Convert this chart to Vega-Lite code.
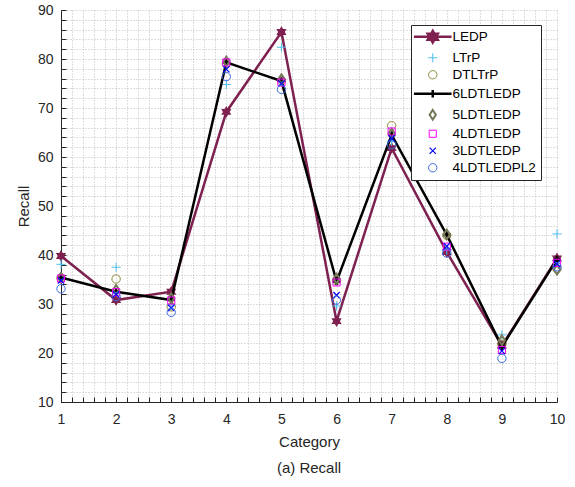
{
  "$schema": "https://vega.github.io/schema/vega-lite/v6.json",
  "autosize": {"type": "none"},
  "width": 496,
  "height": 392,
  "padding": {"left": 61, "top": 10, "right": 18, "bottom": 85},
  "background": "white",
  "config": {
    "view": {"stroke": null},
    "font": "Liberation Sans",
    "axis": {
      "domainColor": "#262626",
      "tickColor": "#262626",
      "labelColor": "#262626",
      "titleColor": "#262626",
      "labelFont": "Liberation Sans",
      "titleFont": "Liberation Sans",
      "labelFontSize": 14,
      "titleFontSize": 15,
      "titleFontWeight": "normal",
      "gridColor": "#bdbdbd",
      "gridDash": [1, 2],
      "gridWidth": 1,
      "tickSize": -5,
      "labelOverlap": false,
      "labelFlush": false
    },
    "title": {"font": "Liberation Sans", "fontSize": 15, "fontWeight": "normal", "color": "#262626"}
  },
  "title": {"text": "(a) Recall", "orient": "bottom", "offset": 12},
  "data": {
    "values": [
      {"cat": 1, "series": "LEDP", "value": 39.8},
      {"cat": 2, "series": "LEDP", "value": 30.8},
      {"cat": 3, "series": "LEDP", "value": 32.5},
      {"cat": 4, "series": "LEDP", "value": 69.2},
      {"cat": 5, "series": "LEDP", "value": 85.5},
      {"cat": 6, "series": "LEDP", "value": 26.5},
      {"cat": 7, "series": "LEDP", "value": 61.8},
      {"cat": 8, "series": "LEDP", "value": 40.6},
      {"cat": 9, "series": "LEDP", "value": 21.5},
      {"cat": 10, "series": "LEDP", "value": 39.3},
      {"cat": 1, "series": "LTrP", "value": 38.1},
      {"cat": 2, "series": "LTrP", "value": 37.5},
      {"cat": 3, "series": "LTrP", "value": 29.8},
      {"cat": 4, "series": "LTrP", "value": 74.8},
      {"cat": 5, "series": "LTrP", "value": 82.4},
      {"cat": 6, "series": "LTrP", "value": 29.6},
      {"cat": 7, "series": "LTrP", "value": 63.2},
      {"cat": 8, "series": "LTrP", "value": 41.0},
      {"cat": 9, "series": "LTrP", "value": 23.7},
      {"cat": 10, "series": "LTrP", "value": 44.3},
      {"cat": 1, "series": "DTLTrP", "value": 35.3},
      {"cat": 2, "series": "DTLTrP", "value": 35.1},
      {"cat": 3, "series": "DTLTrP", "value": 29.4},
      {"cat": 4, "series": "DTLTrP", "value": 79.0},
      {"cat": 5, "series": "DTLTrP", "value": 75.6},
      {"cat": 6, "series": "DTLTrP", "value": 34.8},
      {"cat": 7, "series": "DTLTrP", "value": 66.4},
      {"cat": 8, "series": "DTLTrP", "value": 44.0},
      {"cat": 9, "series": "DTLTrP", "value": 21.8},
      {"cat": 10, "series": "DTLTrP", "value": 37.2},
      {"cat": 1, "series": "6LDTLEDP", "value": 35.4},
      {"cat": 2, "series": "6LDTLEDP", "value": 32.5},
      {"cat": 3, "series": "6LDTLEDP", "value": 30.8},
      {"cat": 4, "series": "6LDTLEDP", "value": 79.3},
      {"cat": 5, "series": "6LDTLEDP", "value": 75.5},
      {"cat": 6, "series": "6LDTLEDP", "value": 34.6},
      {"cat": 7, "series": "6LDTLEDP", "value": 64.5},
      {"cat": 8, "series": "6LDTLEDP", "value": 44.1},
      {"cat": 9, "series": "6LDTLEDP", "value": 21.3},
      {"cat": 10, "series": "6LDTLEDP", "value": 39.1},
      {"cat": 1, "series": "5LDTLEDP", "value": 35.4},
      {"cat": 2, "series": "5LDTLEDP", "value": 32.9},
      {"cat": 3, "series": "5LDTLEDP", "value": 31.2},
      {"cat": 4, "series": "5LDTLEDP", "value": 79.5},
      {"cat": 5, "series": "5LDTLEDP", "value": 75.9},
      {"cat": 6, "series": "5LDTLEDP", "value": 35.2},
      {"cat": 7, "series": "5LDTLEDP", "value": 64.8},
      {"cat": 8, "series": "5LDTLEDP", "value": 44.2},
      {"cat": 9, "series": "5LDTLEDP", "value": 22.6},
      {"cat": 10, "series": "5LDTLEDP", "value": 37.0},
      {"cat": 1, "series": "4LDTLEDP", "value": 35.2},
      {"cat": 2, "series": "4LDTLEDP", "value": 32.4},
      {"cat": 3, "series": "4LDTLEDP", "value": 30.7},
      {"cat": 4, "series": "4LDTLEDP", "value": 79.3},
      {"cat": 5, "series": "4LDTLEDP", "value": 75.2},
      {"cat": 6, "series": "4LDTLEDP", "value": 34.4},
      {"cat": 7, "series": "4LDTLEDP", "value": 65.2},
      {"cat": 8, "series": "4LDTLEDP", "value": 41.7},
      {"cat": 9, "series": "4LDTLEDP", "value": 20.6},
      {"cat": 10, "series": "4LDTLEDP", "value": 38.4},
      {"cat": 1, "series": "3LDTLEDP", "value": 34.8},
      {"cat": 2, "series": "3LDTLEDP", "value": 32.0},
      {"cat": 3, "series": "3LDTLEDP", "value": 29.2},
      {"cat": 4, "series": "3LDTLEDP", "value": 77.9},
      {"cat": 5, "series": "3LDTLEDP", "value": 75.0},
      {"cat": 6, "series": "3LDTLEDP", "value": 31.8},
      {"cat": 7, "series": "3LDTLEDP", "value": 63.8},
      {"cat": 8, "series": "3LDTLEDP", "value": 41.8},
      {"cat": 9, "series": "3LDTLEDP", "value": 20.4},
      {"cat": 10, "series": "3LDTLEDP", "value": 38.2},
      {"cat": 1, "series": "4LDTLEDPL2", "value": 33.1},
      {"cat": 2, "series": "4LDTLEDPL2", "value": 31.5},
      {"cat": 3, "series": "4LDTLEDPL2", "value": 28.3},
      {"cat": 4, "series": "4LDTLEDPL2", "value": 76.4},
      {"cat": 5, "series": "4LDTLEDPL2", "value": 73.8},
      {"cat": 6, "series": "4LDTLEDPL2", "value": 30.8},
      {"cat": 7, "series": "4LDTLEDPL2", "value": 62.5},
      {"cat": 8, "series": "4LDTLEDPL2", "value": 40.4},
      {"cat": 9, "series": "4LDTLEDPL2", "value": 18.9},
      {"cat": 10, "series": "4LDTLEDPL2", "value": 37.6}
    ]
  },
  "encoding": {
    "x": {
      "field": "cat", "type": "quantitative",
      "scale": {"domain": [1, 10], "nice": false, "zero": false},
      "axis": {
        "title": "Category",
        "grid": true,
        "values": [1,1.2,1.4,1.6,1.8,2,2.2,2.4,2.6,2.8,3,3.2,3.4,3.6,3.8,4,4.2,4.4,4.6,4.8,5,5.2,5.4,5.6,5.8,6,6.2,6.4,6.6,6.8,7,7.2,7.4,7.6,7.8,8,8.2,8.4,8.6,8.8,9,9.2,9.4,9.6,9.8,10],
        "labelExpr": "datum.value % 1 === 0 ? format(datum.value, 'd') : ''",
        "labelPadding": 15,
        "titlePadding": 8,
        "encode": {"ticks": {"update": {"strokeOpacity": {"signal": "datum.value % 1 === 0 ? 1 : 0"}}}}
      }
    },
    "y": {
      "field": "value", "type": "quantitative",
      "scale": {"domain": [10, 90], "nice": false, "zero": false},
      "axis": {
        "title": "Recall",
        "grid": true,
        "values": [10,12,14,16,18,20,22,24,26,28,30,32,34,36,38,40,42,44,46,48,50,52,54,56,58,60,62,64,66,68,70,72,74,76,78,80,82,84,86,88,90],
        "labelExpr": "datum.value % 10 === 0 ? datum.label : ''",
        "labelPadding": 13,
        "titlePadding": 6,
        "encode": {"ticks": {"update": {"strokeOpacity": {"signal": "datum.value % 10 === 0 ? 1 : 0"}}}}
      }
    }
  },
  "layer": [
    {
      "transform": [{"filter": "datum.series === 'LEDP'"}],
      "mark": {"type": "line", "strokeWidth": 2.5, "color": "#7E2150"}
    },
    {
      "transform": [{"filter": "datum.series === 'LEDP'"}],
      "mark": {"type": "point", "opacity": 1, "filled": true, "color": "#7E2150", "strokeWidth": 1.5, "size": 70,
        "shape": "M0,-1.4L0.404,-0.7L1.212,-0.7L0.808,0L1.212,0.7L0.404,0.7L0,1.4L-0.404,0.7L-1.212,0.7L-0.808,0L-1.212,-0.7L-0.404,-0.7Z"}
    },
    {
      "transform": [{"filter": "datum.series === 'LTrP'"}],
      "mark": {"type": "point", "opacity": 1, "filled": false, "color": "#4DBEEE", "strokeWidth": 1, "size": 70,
        "shape": "M-1.1,0L1.1,0M0,-1.1L0,1.1"}
    },
    {
      "transform": [{"filter": "datum.series === 'DTLTrP'"}],
      "mark": {"type": "point", "opacity": 1, "filled": false, "color": "#8F8B3B", "strokeWidth": 1, "size": 70, "shape": "circle"}
    },
    {
      "transform": [{"filter": "datum.series === '6LDTLEDP'"}],
      "mark": {"type": "line", "strokeWidth": 2.5, "color": "#000000"}
    },
    {
      "transform": [{"filter": "datum.series === '6LDTLEDP'"}],
      "mark": {"type": "point", "opacity": 1, "filled": false, "color": "#000000", "strokeWidth": 2.5, "size": 70,
        "shape": "M-0.9,0L0.9,0M0,-0.9L0,0.9"}
    },
    {
      "transform": [{"filter": "datum.series === '5LDTLEDP'"}],
      "mark": {"type": "point", "opacity": 1, "filled": false, "color": "#77775A", "strokeWidth": 2, "size": 70,
        "shape": "M0,-1.15L0.75,0L0,1.15L-0.75,0Z"}
    },
    {
      "transform": [{"filter": "datum.series === '4LDTLEDP'"}],
      "mark": {"type": "point", "opacity": 1, "filled": false, "color": "#FF00FF", "strokeWidth": 1, "size": 70,
        "shape": "M-0.85,-0.85L0.85,-0.85L0.85,0.85L-0.85,0.85Z"}
    },
    {
      "transform": [{"filter": "datum.series === '3LDTLEDP'"}],
      "mark": {"type": "point", "opacity": 1, "filled": false, "color": "#0000FF", "strokeWidth": 1.2, "size": 70,
        "shape": "M-0.75,-0.75L0.75,0.75M-0.75,0.75L0.75,-0.75"}
    },
    {
      "transform": [{"filter": "datum.series === '4LDTLEDPL2'"}],
      "mark": {"type": "point", "opacity": 1, "filled": false, "color": "#3D6BE0", "strokeWidth": 1, "size": 70, "shape": "circle"}
    },
    {
      "mark": {"type": "point", "opacity": 0, "size": 70, "filled": true},
      "encoding": {
        "stroke": {
          "field": "series", "type": "nominal",
          "scale": {
            "domain": ["LEDP", "LTrP", "DTLTrP", "6LDTLEDP", "5LDTLEDP", "4LDTLEDP", "3LDTLEDP", "4LDTLEDPL2"],
            "range": ["#7E2150", "#4DBEEE", "#8F8B3B", "#000000", "#77775A", "#FF00FF", "#0000FF", "#3D6BE0"]
          },
          "legend": {
            "title": null,
            "orient": "none",
            "legendX": 350,
            "legendY": 15,
            "strokeColor": "#262626",
            "fillColor": "white",
            "padding": 5,
            "labelFont": "Liberation Sans",
            "labelFontSize": 13.5,
            "labelColor": "#000000",
            "symbolOffset": 10,
            "labelOffset": 13,
            "rowPadding": 2,
            "symbolSize": 70,
            "symbolOpacity": 1
          }
        },
        "shape": {
          "field": "series", "type": "nominal",
          "scale": {
            "domain": ["LEDP", "LTrP", "DTLTrP", "6LDTLEDP", "5LDTLEDP", "4LDTLEDP", "3LDTLEDP", "4LDTLEDPL2"],
            "range": ["M-4.5,0L4.5,0M0,-1.4L0.404,-0.7L1.212,-0.7L0.808,0L1.212,0.7L0.404,0.7L0,1.4L-0.404,0.7L-1.212,0.7L-0.808,0L-1.212,-0.7L-0.404,-0.7ZM0,-0.9L0.26,-0.45L0.779,-0.45L0.519,0L0.779,0.45L0.26,0.45L0,0.9L-0.26,0.45L-0.779,0.45L-0.519,0L-0.779,-0.45L-0.26,-0.45ZM0,-0.45L0.13,-0.225L0.39,-0.225L0.26,0L0.39,0.225L0.13,0.225L0,0.45L-0.13,0.225L-0.39,0.225L-0.26,0L-0.39,-0.225L-0.13,-0.225Z", "M-1.1,0L1.1,0M0,-1.1L0,1.1", "circle", "M-4.5,0L4.5,0M0,-0.9L0,0.9", "M0,-1.15L0.75,0L0,1.15L-0.75,0Z", "M-0.85,-0.85L0.85,-0.85L0.85,0.85L-0.85,0.85Z", "M-0.75,-0.75L0.75,0.75M-0.75,0.75L0.75,-0.75", "circle"]
          },
          "legend": {"title": null}
        },
        "fill": {
          "field": "series", "type": "nominal",
          "scale": {
            "domain": ["LEDP", "LTrP", "DTLTrP", "6LDTLEDP", "5LDTLEDP", "4LDTLEDP", "3LDTLEDP", "4LDTLEDPL2"],
            "range": ["#7E2150", "transparent", "transparent", "transparent", "transparent", "transparent", "transparent", "transparent"]
          },
          "legend": {"title": null}
        },
        "strokeWidth": {
          "field": "series", "type": "nominal",
          "scale": {
            "type": "ordinal",
            "domain": ["LEDP", "LTrP", "DTLTrP", "6LDTLEDP", "5LDTLEDP", "4LDTLEDP", "3LDTLEDP", "4LDTLEDPL2"],
            "range": [2.5, 1, 1, 2.5, 2, 1, 1.2, 1]
          },
          "legend": {"title": null}
        }
      }
    }
  ]
}
